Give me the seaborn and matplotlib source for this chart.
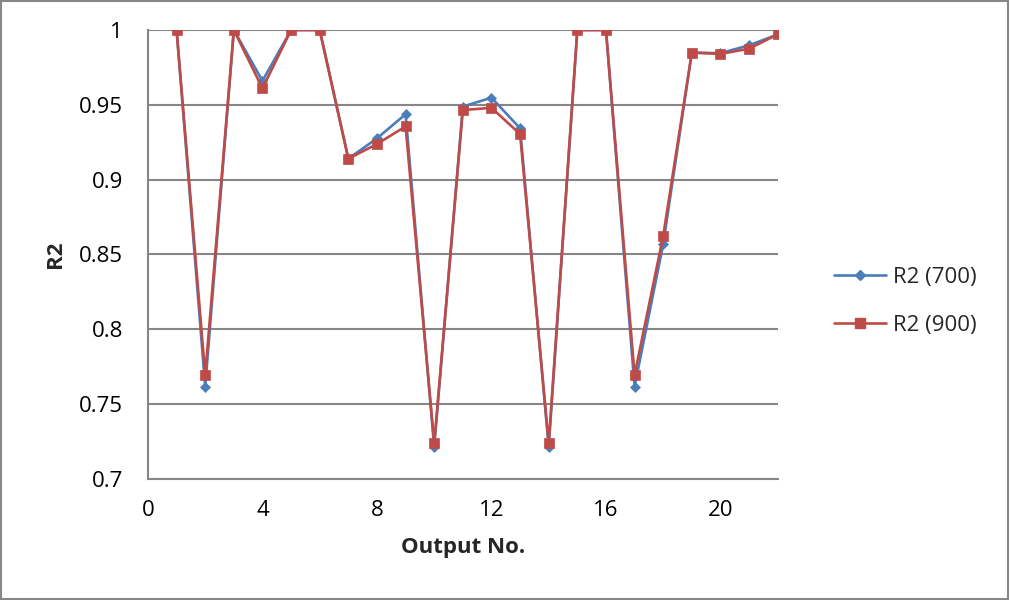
import numpy as np
import pandas as pd
import matplotlib
matplotlib.use("Agg")
import matplotlib.pyplot as plt
import seaborn as sns
from matplotlib.patches import Rectangle
from matplotlib.lines import Line2D

# R2 per output for two training sizes
output_no = list(range(1, 23))
r2_700 = [1.0, 0.7617, 1.0, 0.966, 1.0, 1.0, 0.914, 0.9276, 0.9437, 0.7214, 0.9488,
          0.9548, 0.9343, 0.7214, 1.0, 1.0, 0.7617, 0.857, 0.9849, 0.9845, 0.9898, 0.997]
r2_900 = [1.0, 0.7695, 1.0, 0.961, 1.0, 1.0, 0.914, 0.9238, 0.9356, 0.7238, 0.9465,
          0.948, 0.9305, 0.7238, 1.0, 1.0, 0.7695, 0.8624, 0.9849, 0.984, 0.9875, 0.9971]
series_names = ["R2 (700)", "R2 (900)"]
x_ticks = [0, 4, 8, 12, 16, 20]
y_ticks = [0.7, 0.75, 0.8, 0.85, 0.9, 0.95, 1]

df = pd.DataFrame({
    "Output No.": output_no * 2,
    "R2": r2_700 + r2_900,
    "series": [series_names[0]] * len(r2_700) + [series_names[1]] * len(r2_900),
})

sns.set_theme(style="white")
plt.rcParams["font.family"] = ["Open Sans", "DejaVu Sans"]

fig = plt.figure(figsize=(10.1, 6.0), dpi=100)
ax = fig.add_axes([0.1465, 0.2017, 0.6235, 0.7483])

palette = {series_names[0]: "#4A7EBB", series_names[1]: "#BE4B48"}
marker_map = {series_names[0]: "D", series_names[1]: "s"}
marker_size = {series_names[0]: 5.0, series_names[1]: 7.0}

sns.lineplot(data=df, x="Output No.", y="R2", hue="series", style="series",
             palette=palette, markers=marker_map, dashes=False, linewidth=1.9,
             ax=ax, legend=False)

for line, name in zip(ax.lines, series_names):
    line.set_markersize(marker_size[name])
    line.set_markeredgewidth(0.5)
    line.set_markeredgecolor(line.get_color())

ax.set_xlim(0, 22)
ax.set_ylim(0.7, 1.0)
ax.set_xticks(x_ticks)
ax.set_yticks(y_ticks)
ax.set_yticklabels([f"{v:g}" for v in y_ticks])
ax.tick_params(axis="both", labelsize=16, length=0, colors="black")
ax.tick_params(axis="x", pad=15)
ax.tick_params(axis="y", pad=18)
ax.grid(axis="y", color="#868686", linewidth=1.5)
ax.set_axisbelow(True)
for side in ["top", "right"]:
    ax.spines[side].set_visible(False)
for side in ["left", "bottom"]:
    ax.spines[side].set_color("#868686")
    ax.spines[side].set_linewidth(1.5)

ax.set_xlabel("Output No.", fontsize=16, fontweight="bold", labelpad=12)
ax.set_ylabel("R2", fontsize=16, fontweight="bold", labelpad=9)

handles = [Line2D([], [], color=palette[n], marker=marker_map[n],
                  markersize=marker_size[n], linewidth=1.9) for n in series_names]
fig.legend(handles, series_names, loc="center left", bbox_to_anchor=(0.826, 0.498),
           frameon=False, fontsize=16, handlelength=2.35, labelspacing=1.2,
           handletextpad=0.3, borderpad=0, borderaxespad=0)

# outer chart border
fig.patches.append(Rectangle((0.001, 0.002), 0.997, 0.996, transform=fig.transFigure,
                             fill=False, edgecolor="#868686", linewidth=1.5))

fig.savefig("out.png", dpi=100)
